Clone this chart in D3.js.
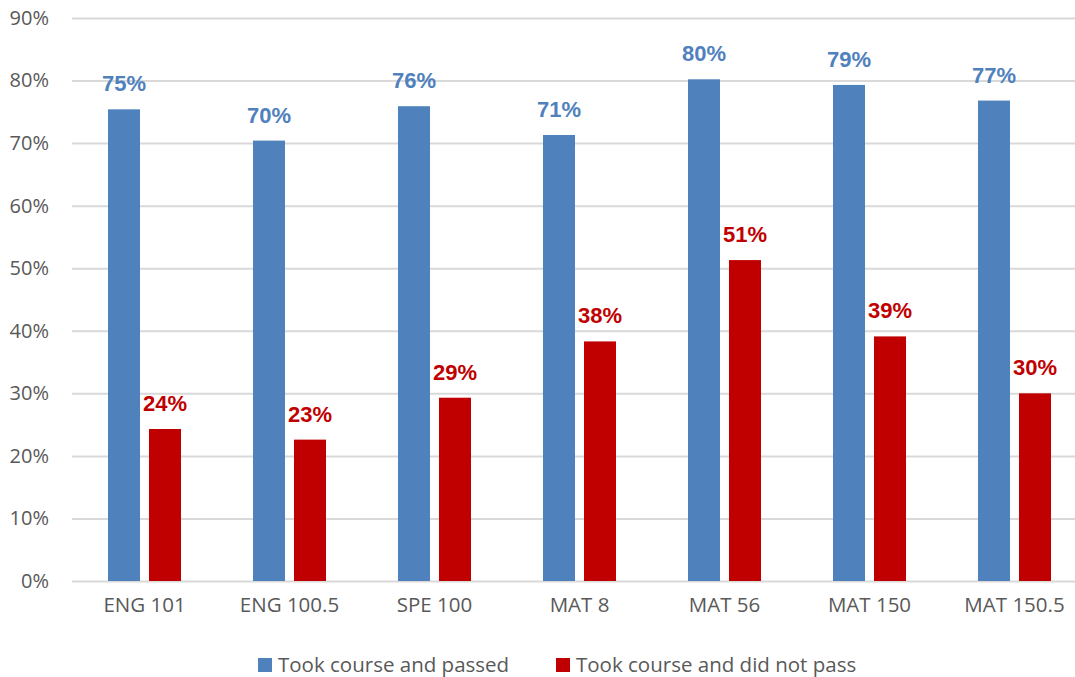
<!DOCTYPE html>
<html>
<head>
<meta charset="utf-8">
<script src="https://cdn.jsdelivr.net/npm/d3@7"></script>
<style>
  body { margin: 0; background: #fff; }
  svg { display: block; }
</style>
</head>
<body>
<svg id="chart" width="1075" height="677"></svg>
<script>
// course categories
var courses = ["ENG 101", "ENG 100.5", "SPE 100", "MAT 8", "MAT 56", "MAT 150", "MAT 150.5"];
// percent values
var passed = [75.4, 70.4, 75.9, 71.3, 80.2, 79.3, 76.8];
var passedLabels = ["75%", "70%", "76%", "71%", "80%", "79%", "77%"];
var notPassed = [24.3, 22.6, 29.3, 38.3, 51.3, 39.1, 30.0];
var notPassedLabels = ["24%", "23%", "29%", "38%", "51%", "39%", "30%"];
var yTicks = [0, 10, 20, 30, 40, 50, 60, 70, 80, 90];
var seriesNames = ["Took course and passed", "Took course and did not pass"];

(function () {
    var svg = d3.select("#chart"),
        blue = "#4F81BD",
        red = "#C00000",
        font = "'Open Sans', 'Liberation Sans', sans-serif",
        boldFont = "'Liberation Sans', Arial, sans-serif",
        plotLeft = 72, plotTop = 18, plotBottom = 581, band = 145;

    var x = d3.scaleBand()
        .domain(courses)
        .range([plotLeft, plotLeft + band * courses.length]);

    var y = d3.scaleLinear().domain([0, 90]).range([plotBottom, plotTop]);

    // gridlines + tick labels
    var yAxis = d3.axisLeft(y)
        .tickValues(yTicks)
        .tickSize(-(1075 - plotLeft))
        .tickFormat(function (d) { return d + "%"; });

    var gy = svg.append("g")
        .attr("transform", "translate(" + plotLeft + ",0)")
        .call(yAxis);
    gy.select(".domain").remove();
    gy.selectAll(".tick line").attr("stroke", "#d9d9d9").attr("stroke-width", 2);
    gy.selectAll(".tick text")
        .attr("x", -23)
        .attr("fill", "#595959")
        .style("font-family", font)
        .style("font-size", "20px");

    // category labels
    var gx = svg.append("g")
        .attr("transform", "translate(0," + plotBottom + ")")
        .call(d3.axisBottom(x).tickSize(0).tickPadding(16));
    gx.select(".domain").remove();
    gx.selectAll(".tick text")
        .attr("fill", "#595959")
        .style("font-family", font)
        .style("font-size", "20.5px");

    var barW = 32, gap = 9;
    var series = [
        { vals: passed, labels: passedLabels, color: blue, off: -gap / 2 - barW },
        { vals: notPassed, labels: notPassedLabels, color: red, off: gap / 2 }
    ];

    series.forEach(function (s) {
        var g = svg.append("g");
        g.selectAll("rect")
            .data(s.vals)
            .enter().append("rect")
            .attr("x", function (d, i) { return x(courses[i]) + x.bandwidth() / 2 + s.off; })
            .attr("y", function (d) { return y(d); })
            .attr("width", barW)
            .attr("height", function (d) { return plotBottom - y(d); })
            .attr("fill", s.color);

        g.selectAll("text")
            .data(s.vals)
            .enter().append("text")
            .attr("x", function (d, i) { return x(courses[i]) + x.bandwidth() / 2 + s.off + barW / 2; })
            .attr("y", function (d) { return y(d) - 18; })
            .attr("text-anchor", "middle")
            .attr("fill", s.color)
            .style("font-family", boldFont)
            .style("font-weight", "bold")
            .style("font-size", "22px")
            .text(function (d, i) { return s.labels[i]; });
    });

    // legend
    var legendX = [258, 556];
    var lg = svg.append("g");
    seriesNames.forEach(function (name, i) {
        lg.append("rect")
            .attr("x", legendX[i]).attr("y", 658)
            .attr("width", 14).attr("height", 14)
            .attr("fill", i === 0 ? blue : red);
        lg.append("text")
            .attr("x", legendX[i] + 20).attr("y", 672)
            .attr("fill", "#595959")
            .style("font-family", font)
            .style("font-size", "20.5px")
            .text(name);
    });
})();
</script>
</body>
</html>
